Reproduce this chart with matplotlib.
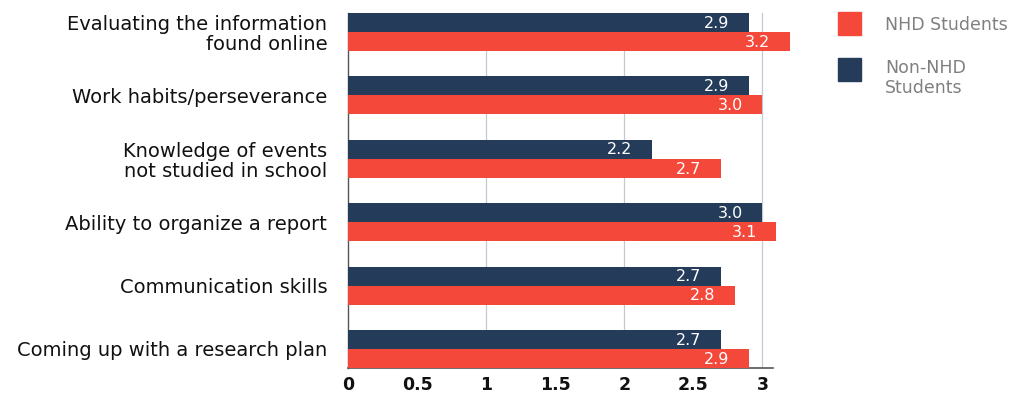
import matplotlib
matplotlib.use("Agg")
import matplotlib.pyplot as plt
from matplotlib.patches import Rectangle
import numpy as np

categories = ["Evaluating the information\nfound online",
              "Work habits/perseverance",
              "Knowledge of events\nnot studied in school",
              "Ability to organize a report",
              "Communication skills",
              "Coming up with a research plan"]
non_nhd = [2.9, 2.9, 2.2, 3.0, 2.7, 2.7]
nhd = [3.2, 3.0, 2.7, 3.1, 2.8, 2.9]
xticks = [0, 0.5, 1, 1.5, 2, 2.5, 3]
xtick_labels = ["0", "0.5", "1", "1.5", "2", "2.5", "3"]

RED = "#F4483B"
NAVY = "#243B5A"
FONT = ["DejaVu Sans"]

fig = plt.figure(figsize=(10.14, 3.99), dpi=100)
ax = fig.add_axes([348/1014, 1-368/399, (790-348)/1014, (368-13)/399])

y = np.arange(len(categories))
h = 0.3
b1 = ax.barh(y - h/2, non_nhd, height=h, color=NAVY, clip_on=False, zorder=3)
b2 = ax.barh(y + h/2, nhd, height=h, color=RED, clip_on=False, zorder=3)

for bars, vals in ((b1, non_nhd), (b2, nhd)):
    for bar, v in zip(bars, vals):
        ax.annotate(f"{v:.1f}", (bar.get_width(), bar.get_y() + bar.get_height()/2),
                    xytext=(-14, -0.5), textcoords="offset points",
                    ha="right", va="center", color="white", fontsize=11.5,
                    family=FONT, zorder=4)

ax.set_xlim(0, 3.2)
ax.set_ylim(5.3, -0.3)
ax.set_xticks(xticks)
ax.set_xticklabels(xtick_labels, fontsize=12.5, fontweight="bold", family=FONT, color="#111111")
ax.set_yticks(y)
ax.set_yticklabels(categories, fontsize=14, family=FONT, color="#111111", linespacing=1.05)
ax.tick_params(axis="both", length=0)
ax.tick_params(axis="x", pad=6)
ax.tick_params(axis="y", pad=15)
for t in ax.get_yticklabels():
    t.set_multialignment("right")

for xv in [1, 2, 3]:
    ax.axvline(xv, color="#C3C9D2", lw=0.9, zorder=1)

for s in ["top", "right"]:
    ax.spines[s].set_visible(False)
ax.spines["left"].set_color("#555555")
ax.spines["bottom"].set_color("#555555")
ax.spines["bottom"].set_bounds(0, 3.08)
ax.spines["left"].set_linewidth(1.0)
ax.spines["bottom"].set_linewidth(1.2)

# legend
fig.patches.append(Rectangle((838/1014, 1-35/399), 23/1014, 23/399,
                             transform=fig.transFigure, color=RED))
fig.text(885/1014, 1-25/399, "NHD Students", fontsize=12.5, color="#808080",
         family=FONT, va="center", ha="left", linespacing=1.1)
fig.patches.append(Rectangle((838/1014, 1-81/399), 23/1014, 23/399,
                             transform=fig.transFigure, color=NAVY))
fig.text(885/1014, 1-78/399, "Non-NHD\nStudents", fontsize=12.5, color="#808080",
         family=FONT, va="center", ha="left", linespacing=1.1)

fig.savefig("out.png", dpi=100)
